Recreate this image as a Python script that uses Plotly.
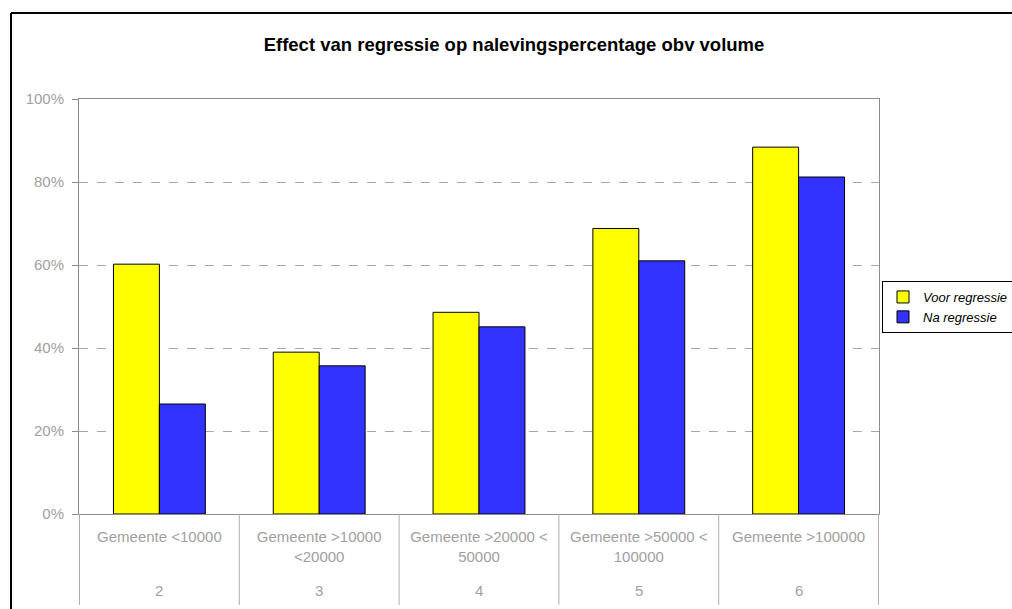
import plotly.graph_objects as go

# Data
group_numbers = ["2", "3", "4", "5", "6"]
categories = [
    "Gemeente &lt;10000",
    "Gemeente &gt;10000<br>&lt;20000",
    "Gemeente &gt;20000 &lt;<br>50000",
    "Gemeente &gt;50000 &lt;<br>100000",
    "Gemeente &gt;100000",
]
voor_regressie = [0.602, 0.390, 0.486, 0.688, 0.884]
na_regressie = [0.265, 0.357, 0.451, 0.610, 0.812]
series_names = ["Voor regressie", "Na regressie"]
title_text = "Effect van regressie op nalevingspercentage obv volume"

FONT = "Liberation Sans, Arial, sans-serif"
GRAY = "#8c8c8c"
LABEL_GRAY = "#a0a0a0"

# plot area in pixels: left 79, right 879, top 99, bottom 514
PH = 415.0
PW = 800.0

fig = go.Figure()
fig.add_trace(go.Bar(
    x=categories, y=voor_regressie, name=series_names[0],
    marker=dict(color="#FFFF00", line=dict(color="#000000", width=1)),
))
fig.add_trace(go.Bar(
    x=categories, y=na_regressie, name=series_names[1],
    marker=dict(color="#3333FF", line=dict(color="#000000", width=1)),
))

fig.update_layout(
    width=1012, height=609,
    paper_bgcolor="white", plot_bgcolor="white",
    margin=dict(l=79, r=133, t=99, b=95, autoexpand=False),
    barmode="group", bargap=0.425, bargroupgap=0,
    title=dict(text="<b>" + title_text + "</b>", x=514 / 1012, xanchor="center",
               y=1 - 45 / 609, yanchor="middle",
               font=dict(family=FONT, size=18.5, color="#000000")),
    font=dict(family=FONT, size=15, color=LABEL_GRAY),
    showlegend=True,
    legend=dict(x=(882 - 79) / PW, y=(514 - 281) / PH, xanchor="left", yanchor="top",
                bordercolor="#000000", borderwidth=1, bgcolor="white",
                font=dict(family=FONT, size=13, color="#000000", style="italic"),
                itemwidth=30),
)

fig.update_yaxes(
    range=[0, 1], dtick=0.2, tickformat=".0%",
    showgrid=True, gridcolor="#a6a6a6", griddash="dash", gridwidth=1,
    showline=True, linecolor=GRAY, linewidth=1, mirror=True,
    ticks="outside", ticklen=6, tickcolor=GRAY, ticklabelstandoff=5,
    tickfont=dict(family=FONT, size=15, color=LABEL_GRAY),
    zeroline=False,
)
fig.update_xaxes(
    type="category",
    showline=True, linecolor=GRAY, linewidth=1, mirror=True,
    ticks="", ticklabelstandoff=9,
    tickfont=dict(family=FONT, size=15, color=LABEL_GRAY),
    showgrid=False,
)

# second level of the category axis: group numbers
for cat, num in zip(categories, group_numbers):
    fig.add_annotation(x=cat, y=-(590 - 514) / PH, xref="x", yref="paper",
                       text=num, showarrow=False, yanchor="middle",
                       font=dict(family=FONT, size=15, color=LABEL_GRAY))

# dividers between category groups
for i in range(len(categories) + 1):
    fig.add_shape(type="line", xref="x", yref="paper",
                  x0=i - 0.5, x1=i - 0.5, y0=0, y1=-(605 - 514) / PH,
                  line=dict(color="#b0b0b0", width=1))

# Outer chart border (left and top edges visible)
fig.add_shape(type="line", xref="paper", yref="paper",
              x0=(11 - 79) / PW, x1=1.4, y0=(514 - 13) / PH, y1=(514 - 13) / PH,
              line=dict(color="#000000", width=2))
fig.add_shape(type="line", xref="paper", yref="paper",
              x0=(11 - 79) / PW, x1=(11 - 79) / PW, y0=(514 - 13) / PH, y1=-0.4,
              line=dict(color="#000000", width=2))

fig.write_html("out.html", config={"displayModeBar": False},
               post_script="document.body.style.margin='0';")
